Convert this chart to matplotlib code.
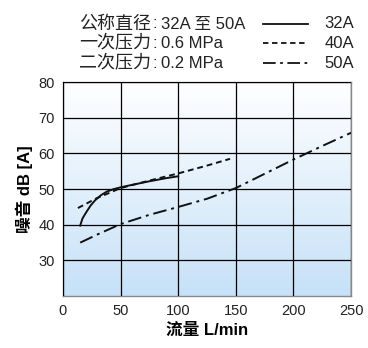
import numpy as np
import matplotlib
matplotlib.use('Agg')
import matplotlib.pyplot as plt
from matplotlib.colors import LinearSegmentedColormap

plt.rcParams['font.family'] = ['Liberation Sans', 'Noto Sans CJK SC']

# curves
x32 = [15, 17, 20, 24, 28, 33, 38, 44, 50, 60, 75, 90, 100]
y32 = [39.8, 41.8, 43.4, 45.4, 46.9, 48.3, 49.3, 50.0, 50.5, 51.2, 52.2, 53.1, 53.6]
x40 = [13, 29, 50, 75, 100, 125, 145]
y40 = [44.7, 47.4, 50.3, 52.4, 54.4, 56.6, 58.5]
x50 = [15, 30, 50, 75, 100, 125, 150, 175, 200, 225, 250]
y50 = [35.0, 37.3, 40.2, 42.8, 45.0, 47.3, 50.3, 54.3, 58.3, 62.1, 65.8]

xticks = [0, 50, 100, 150, 200, 250]
yticks = [30, 40, 50, 60, 70, 80]

fig = plt.figure(figsize=(3.68, 3.48), dpi=100)
ax = fig.add_axes([0.171, 0.149, 0.783, 0.615])

# background gradient, white on top to light blue at the bottom
cmap = LinearSegmentedColormap.from_list('bg', ['#ffffff', '#c6e1f8'])
grad = np.linspace(0, 1, 256).reshape(-1, 1)
ax.imshow(grad, aspect='auto', cmap=cmap, extent=[0, 250, 20, 80],
          origin='upper', zorder=0)

ax.plot(x32, y32, color='#111111', lw=1.4, ls='-', zorder=3)
ax.plot(x40, y40, color='#111111', lw=1.4, ls=(0, (3, 2)), zorder=3)
ax.plot(x50, y50, color='#111111', lw=1.4, ls=(0, (7, 2.5, 1.5, 2.5)), zorder=3)

ax.set_xlim(0, 250)
ax.set_ylim(20, 80)
ax.set_xticks(xticks)
ax.set_yticks(yticks)
ax.tick_params(length=0, labelsize=10.5, colors='#222222', pad=6)
ax.grid(True, color='black', lw=0.9, zorder=1)
ax.set_axisbelow(False)
for s in ax.spines.values():
    s.set_color('#888888')
    s.set_linewidth(1)

ax.set_xlabel('流量 L/min', fontsize=12, fontweight='bold', labelpad=3)
ax.set_ylabel('噪音 dB [A]', fontsize=12, fontweight='bold', labelpad=4)

# header text
rows = [('公称直径', '32A 至 50A'), ('一次压力', '0.6 MPa'), ('二次压力', '0.2 MPa')]
names = ['32A', '40A', '50A']
styles = ['-', (0, (3, 2)), (0, (7, 2.5, 1.5, 2.5))]
ys = [24, 43, 63]
for (lab, val), nm, st, yp in zip(rows, names, styles, ys):
    yf = 1 - yp / 348
    fig.text(151 / 368, yf, lab, ha='right', va='center', fontsize=13, color='#222222')
    fig.text(155 / 368, yf, ':', ha='center', va='center', fontsize=12, color='#222222')
    fig.text(161 / 368, yf, val, ha='left', va='center', fontsize=12, color='#222222')
    fig.add_artist(plt.Line2D([263 / 368, 308 / 368], [yf, yf], color='#111111',
                              lw=1.3, ls=st, transform=fig.transFigure))
    fig.text(354 / 368, yf, nm, ha='right', va='center', fontsize=12, color='#222222')

plt.savefig('out.png', dpi=100)
